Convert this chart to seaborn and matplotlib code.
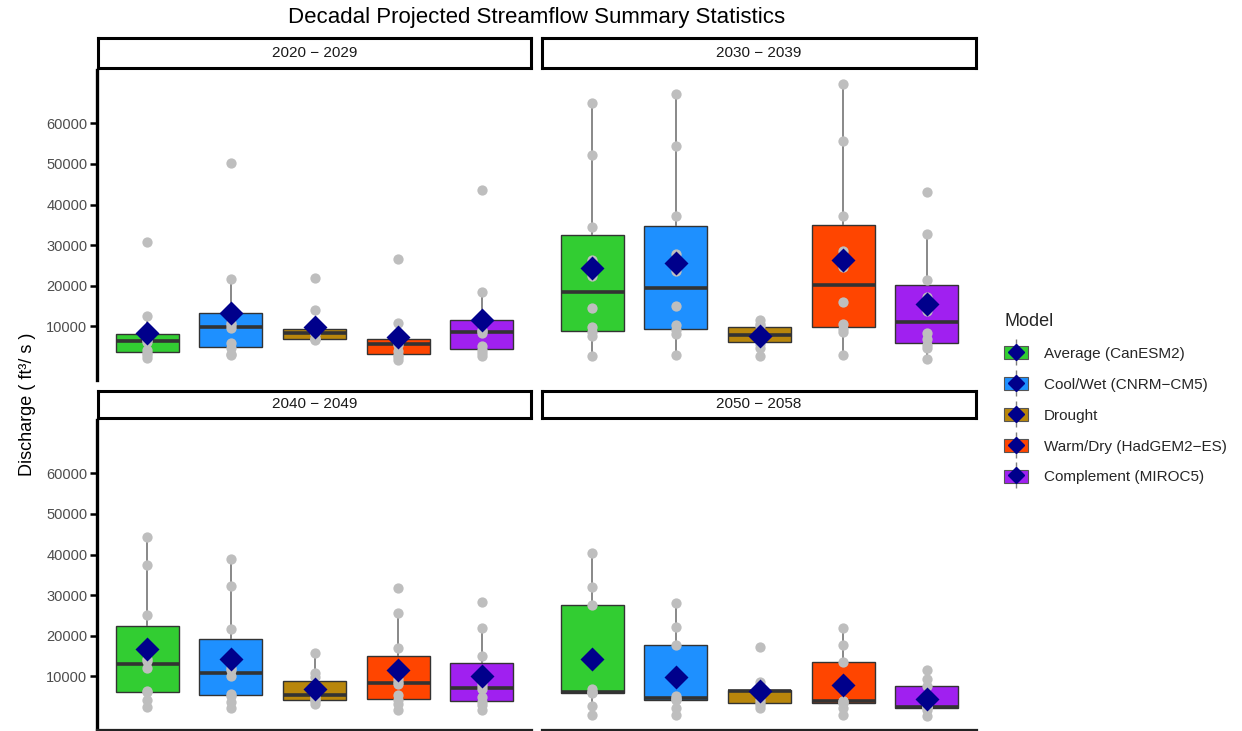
import numpy as np
import pandas as pd
import matplotlib
matplotlib.use("Agg")
import matplotlib.pyplot as plt
from matplotlib.patches import Patch
from matplotlib.lines import Line2D
from matplotlib.legend_handler import HandlerTuple
import seaborn as sns

# ---- categories -------------------------------------------------------------
models = [
    "Average (CanESM2)",
    "Cool/Wet (CNRM\u2212CM5)",
    "Drought",
    "Warm/Dry (HadGEM2\u2212ES)",
    "Complement (MIROC5)",
]
model_colors = ["#32CD32", "#1E90FF", "#B8860B", "#FF4500", "#A020F0"]
decades = ["2020 \u2212 2029", "2030 \u2212 2039", "2040 \u2212 2049", "2050 \u2212 2058"]
y_ticks = [10000, 20000, 30000, 40000, 50000, 60000]

# ---- annual projected discharge (ft3/s), one value per year ------------------
q2020_average = [2150, 3000, 3450, 4150, 6200, 6760, 7000, 8400, 12690, 30830]
q2020_coolwet = [2970, 3200, 4700, 5900, 9700, 10280, 10800, 14290, 21590, 50270]
q2020_drought = [6640, 6800, 6900, 7200, 8100, 8460, 8900, 9590, 13995, 21920]
q2020_warmdry = [1750, 2610, 3000, 3850, 5500, 5980, 6200, 7230, 10810, 26580]
q2020_complement = [2720, 3500, 4300, 5200, 8400, 8970, 9200, 12330, 18490, 43570]

q2030_average = [2810, 7630, 8700, 9930, 14490, 22330, 26250, 34500, 52150, 64980]
q2030_coolwet = [2890, 8130, 9090, 10320, 15140, 23640, 27880, 37120, 54360, 67260]
q2030_drought = [2730, 4600, 5800, 6900, 7500, 8240, 8800, 10070, 10500, 11545]
q2030_warmdry = [2890, 8700, 9500, 10500, 15960, 24620, 28680, 37120, 55660, 69630]
q2030_complement = [2060, 4800, 5500, 6800, 8440, 13840, 17250, 21350, 32700, 43000]

q2040_average = [2600, 4245, 6100, 6500, 12125, 13775, 14250, 25100, 37495, 44390]
q2040_coolwet = [2360, 3750, 5300, 5700, 10150, 11640, 12000, 21570, 32240, 38890]
q2040_drought = [3340, 3900, 4100, 4700, 5200, 5750, 6500, 9840, 10800, 15820]
q2040_warmdry = [1780, 3340, 4200, 5400, 8100, 8600, 9340, 16970, 25670, 31665]
q2040_complement = [1700, 2930, 3700, 4900, 6900, 7660, 8500, 15000, 21900, 28220]

q2050_average = [550, 2765, 5890, 6100, 6215, 6970, 27560, 32000, 40290]
q2050_coolwet = [470, 2190, 4160, 4400, 4655, 5245, 17710, 22225, 28135]
q2050_drought = [2190, 3000, 3425, 4200, 6470, 6550, 6625, 8520, 17300]
q2050_warmdry = [470, 2355, 3505, 3550, 3915, 4000, 13440, 17790, 21815]
q2050_complement = [300, 1700, 2190, 2400, 2520, 2700, 7700, 9340, 11715]

series = {
    decades[0]: [q2020_average, q2020_coolwet, q2020_drought, q2020_warmdry, q2020_complement],
    decades[1]: [q2030_average, q2030_coolwet, q2030_drought, q2030_warmdry, q2030_complement],
    decades[2]: [q2040_average, q2040_coolwet, q2040_drought, q2040_warmdry, q2040_complement],
    decades[3]: [q2050_average, q2050_coolwet, q2050_drought, q2050_warmdry, q2050_complement],
}

rows = []
for dec, per_model in series.items():
    for model, vals in zip(models, per_model):
        for v in vals:
            rows.append({"decade": dec, "model": model, "q": v})
df = pd.DataFrame(rows)

# ---- styling ----------------------------------------------------------------
sns.set_theme(style="white")
plt.rcParams["font.family"] = ["Liberation Sans", "DejaVu Sans"]

W, H = 1242, 731
fig = plt.figure(figsize=(W / 100, H / 100), dpi=100)
fig.patch.set_facecolor("white")


def px_box(x0, y0, x1, y1):
    return [x0 / W, 1 - y1 / H, (x1 - x0) / W, (y1 - y0) / H]


panel_px = [(97, 70, 532, 380), (542, 70, 977, 380),
            (97, 420, 532, 730), (542, 420, 977, 730)]
strip_px = [(98, 38, 531, 68), (542, 38, 976, 68),
            (98, 391, 531, 418), (542, 391, 976, 418)]

# shared y scale with 5% padding on both sides
lo, hi = df["q"].min(), df["q"].max()
pad = 0.05 * (hi - lo)

for i, dec in enumerate(decades):
    col, row = i % 2, i // 2
    ax = fig.add_axes(px_box(*panel_px[i]))
    sub = df[df["decade"] == dec]

    sns.boxplot(
        data=sub, x="model", y="q", hue="model", order=models, hue_order=models,
        palette=model_colors, legend=False, width=0.75, saturation=1,
        showfliers=False, showcaps=False, whis=1.5,
        linecolor="#333333", linewidth=1.0,
        medianprops=dict(color="#333333", linewidth=2.6),
        whiskerprops=dict(color="#7f7f7f", linewidth=1.3),
        ax=ax,
    )
    sns.stripplot(
        data=sub, x="model", y="q", order=models, color="#BEBEBE",
        jitter=False, size=7.4, linewidth=0, ax=ax, zorder=3,
    )
    sns.pointplot(
        data=sub, x="model", y="q", order=models, estimator="mean",
        errorbar=None, color="#00008B", marker="D", markersize=10,
        linestyle="none", ax=ax, zorder=4,
    )

    ax.set_xlim(-0.6, len(models) - 0.4)
    ax.set_ylim(lo - pad, hi + pad)
    ax.set_xlabel("")
    ax.set_ylabel("")
    ax.set_xticks([])
    ax.set_facecolor("white")
    for s in ax.spines.values():
        s.set_visible(False)

    if col == 0:
        ax.spines["left"].set_visible(True)
        ax.spines["left"].set_linewidth(2.4)
        ax.spines["left"].set_color("black")
        ax.set_yticks(y_ticks)
        ax.set_yticklabels([str(t) for t in y_ticks])
        ax.tick_params(axis="y", left=True, length=5, width=1.8, color="black",
                       labelsize=10.5, labelcolor="#4D4D4D", pad=2)
    else:
        ax.set_yticks([])
    if row == 1:
        ax.spines["bottom"].set_visible(True)
        ax.spines["bottom"].set_linewidth(1.6)
        ax.spines["bottom"].set_color("#222222")

    # facet strip
    sax = fig.add_axes(px_box(*strip_px[i]))
    sax.set_xticks([])
    sax.set_yticks([])
    sax.set_facecolor("white")
    for s in sax.spines.values():
        s.set_linewidth(2.2)
        s.set_color("black")
    sax.text(0.5, 0.5, dec, ha="center", va="center", fontsize=11,
             color="#1A1A1A", transform=sax.transAxes)

fig.text(537 / W, 1 - 17 / H, "Decadal Projected Streamflow Summary Statistics",
         ha="center", va="center", fontsize=16, color="black")
fig.text(28 / W, 1 - 404 / H, "Discharge ( ft\u00b3/ s )", rotation=90,
         ha="center", va="center", fontsize=13, color="black")

# legend: box + whisker + mean diamond per model, overlaid in one key
handles = []
for c in model_colors:
    whisker = Line2D([], [], marker="|", markersize=19, markeredgewidth=1.0,
                     color="#7f7f7f", linestyle="none")
    box = Patch(facecolor=c, edgecolor="#555555", linewidth=0.8)
    mean = Line2D([], [], marker="D", markersize=8.5, color="#00008B",
                  linestyle="none")
    handles.append((whisker, box, mean))

leg = fig.legend(
    handles, models, handler_map={tuple: HandlerTuple(ndivide=1, pad=0)},
    loc="upper left", bbox_to_anchor=(1004 / W, 1 - 313 / H),
    frameon=False, title="Model", fontsize=11, title_fontsize=13,
    handlelength=1.6, handleheight=0.95, labelspacing=1.05,
    handletextpad=1.0, borderaxespad=0, borderpad=0, alignment="left",
)

fig.savefig("out.png", dpi=100, facecolor="white")
